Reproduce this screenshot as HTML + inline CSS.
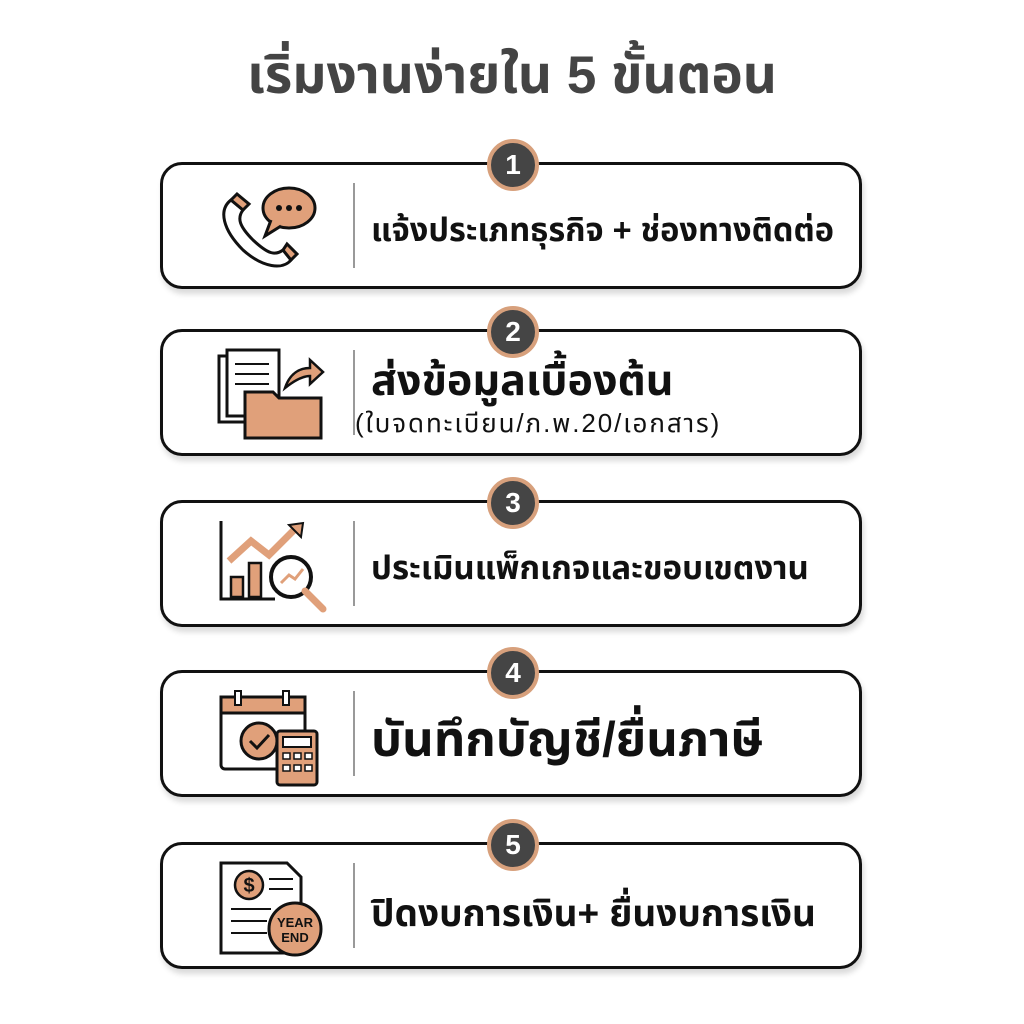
<!DOCTYPE html>
<html><head><meta charset="utf-8"><style>
body{margin:0;width:1024px;height:1024px;background:#fff;position:relative;overflow:hidden;font-family:"Liberation Sans","Noto Sans Thai","Loma","Garuda",sans-serif;}
.t{position:absolute;left:0;width:1024px;top:44px;text-align:center;font-size:53px;font-weight:bold;color:#444;line-height:1.2;}
.box{position:absolute;left:160px;width:696px;height:121px;border:3px solid #111;border-radius:22px;background:#fff;box-shadow:2px 5px 6px rgba(0,0,0,0.15);}
.div{position:absolute;left:190px;top:18px;bottom:18px;width:2px;background:#999;}
.badge{position:absolute;left:487px;width:44px;height:44px;border-radius:50%;background:#454545;border:4px solid #d7a07c;color:#fff;font-weight:bold;font-size:28px;text-align:center;line-height:44px;}
.tx{position:absolute;left:208px;font-weight:bold;color:#111;white-space:nowrap;line-height:1.2;}
svg{position:absolute;}
</style></head><body>
<div class="t">เริ่มงานง่ายใน 5 ขั้นตอน</div>

<div class="box" style="top:162px"><div class="div"></div>
<svg style="left:50px;top:15px" width="110" height="95" viewBox="0 0 110 95">
<path d="M18 20 C5 30 10 50 30 70 C50 88 70 90 78 80 L70 70 C62 76 55 74 40 60 C26 46 24 38 30 30 Z" fill="#fff" stroke="#111" stroke-width="3"/>
<path d="M18 20 L30 30 L36 24 L24 14 Z M70 70 L78 80 L84 74 L74 64 Z" fill="#e0a07a" stroke="#111" stroke-width="3"/>
<ellipse cx="76" cy="28" rx="26" ry="20" fill="#e0a07a" stroke="#111" stroke-width="3"/>
<path d="M58 40 L52 56 L68 46" fill="#e0a07a" stroke="#111" stroke-width="3"/>
<circle cx="66" cy="28" r="3" fill="#111"/><circle cx="76" cy="28" r="3" fill="#111"/><circle cx="86" cy="28" r="3" fill="#111"/>
</svg>
<div class="tx" style="top:46px;font-size:32.5px">แจ้งประเภทธุรกิจ + ช่องทางติดต่อ</div></div>
<div class="badge" style="top:139px">1</div>

<div class="box" style="top:329px"><div class="div"></div>
<svg style="left:52px;top:16px" width="115" height="95" viewBox="0 0 115 95">
<rect x="4" y="8" width="52" height="66" fill="#fff" stroke="#111" stroke-width="3"/>
<rect x="12" y="2" width="52" height="66" fill="#fff" stroke="#111" stroke-width="3"/>
<g stroke="#111" stroke-width="2"><line x1="20" y1="16" x2="54" y2="16"/><line x1="20" y1="26" x2="54" y2="26"/><line x1="20" y1="36" x2="54" y2="36"/></g>
<path d="M30 50 L30 90 L106 90 L106 50 L64 50 L58 44 L30 44 Z" fill="#e0a07a" stroke="#111" stroke-width="3"/>
<path d="M70 40 C75 25 85 20 95 20 L95 12 L108 24 L95 36 L95 28 C88 28 80 32 70 40Z" fill="#e0a07a" stroke="#111" stroke-width="2.5"/>
</svg>
<div class="tx" style="top:24px;font-size:43px">ส่งข้อมูลเบื้องต้น</div>
<div class="tx" style="top:76px;left:192px;font-size:26px;font-weight:normal;letter-spacing:1.9px">(ใบจดทะเบียน/ภ.พ.20/เอกสาร)</div></div>
<div class="badge" style="top:306px">2</div>

<div class="box" style="top:500px"><div class="div"></div>
<svg style="left:52px;top:14px" width="115" height="100" viewBox="0 0 115 100">
<path d="M6 4 L6 82 L60 82" fill="none" stroke="#111" stroke-width="3"/>
<rect x="16" y="60" width="12" height="20" fill="#e0a07a" stroke="#111" stroke-width="2.5"/>
<rect x="34" y="46" width="12" height="34" fill="#e0a07a" stroke="#111" stroke-width="2.5"/>
<path d="M14 44 L36 24 L54 38 L80 12" fill="none" stroke="#e0a07a" stroke-width="7"/>
<path d="M74 8 L88 6 L86 20Z" fill="#e0a07a" stroke="#111" stroke-width="2"/>
<circle cx="76" cy="60" r="20" fill="#fff" stroke="#111" stroke-width="4"/>
<path d="M66 66 L74 58 L80 62 L88 52" fill="none" stroke="#e0a07a" stroke-width="3"/>
<line x1="90" y1="74" x2="108" y2="92" stroke="#e0a07a" stroke-width="7" stroke-linecap="round"/>
</svg>
<div class="tx" style="top:45px;font-size:33px">ประเมินแพ็กเกจและขอบเขตงาน</div></div>
<div class="badge" style="top:477px">3</div>

<div class="box" style="top:670px"><div class="div"></div>
<svg style="left:54px;top:16px" width="110" height="100" viewBox="0 0 110 100">
<rect x="4" y="8" width="84" height="72" rx="4" fill="#fff" stroke="#111" stroke-width="3"/>
<rect x="4" y="8" width="84" height="16" fill="#e0a07a" stroke="#111" stroke-width="3"/>
<rect x="18" y="2" width="6" height="14" fill="#fff" stroke="#111" stroke-width="2"/>
<rect x="66" y="2" width="6" height="14" fill="#fff" stroke="#111" stroke-width="2"/>
<circle cx="42" cy="52" r="18" fill="#e0a07a" stroke="#111" stroke-width="3"/>
<path d="M33 52 L40 59 L52 46" fill="none" stroke="#111" stroke-width="3"/>
<rect x="60" y="42" width="40" height="54" rx="3" fill="#e0a07a" stroke="#111" stroke-width="3"/>
<rect x="66" y="48" width="28" height="10" fill="#fff" stroke="#111" stroke-width="2"/>
<g fill="#fff" stroke="#111" stroke-width="1.5"><rect x="66" y="64" width="7" height="6"/><rect x="77" y="64" width="7" height="6"/><rect x="88" y="64" width="7" height="6"/><rect x="66" y="76" width="7" height="6"/><rect x="77" y="76" width="7" height="6"/><rect x="88" y="76" width="7" height="6"/></g>
</svg>
<div class="tx" style="top:38px;font-size:49px">บันทึกบัญชี/ยื่นภาษี</div></div>
<div class="badge" style="top:647px">4</div>

<div class="box" style="top:842px"><div class="div"></div>
<svg style="left:54px;top:14px" width="110" height="100" viewBox="0 0 110 100">
<path d="M4 4 L70 4 L84 18 L84 94 L4 94 Z" fill="#fff" stroke="#111" stroke-width="3"/>
<circle cx="32" cy="26" r="14" fill="#e0a07a" stroke="#111" stroke-width="2.5"/>
<text x="32" y="33" font-size="20" font-weight="bold" text-anchor="middle" fill="#111">$</text>
<g stroke="#111" stroke-width="2"><line x1="52" y1="20" x2="76" y2="20"/><line x1="52" y1="30" x2="76" y2="30"/><line x1="14" y1="50" x2="54" y2="50"/><line x1="14" y1="62" x2="50" y2="62"/><line x1="14" y1="74" x2="50" y2="74"/></g>
<circle cx="78" cy="70" r="26" fill="#e0a07a" stroke="#111" stroke-width="3"/>
<text x="78" y="68" font-size="13" font-weight="bold" text-anchor="middle" fill="#111">YEAR</text>
<text x="78" y="83" font-size="13" font-weight="bold" text-anchor="middle" fill="#111">END</text>
</svg>
<div class="tx" style="top:47px;font-size:37px">ปิดงบการเงิน+ ยื่นงบการเงิน</div></div>
<div class="badge" style="top:819px">5</div>
</body></html>
